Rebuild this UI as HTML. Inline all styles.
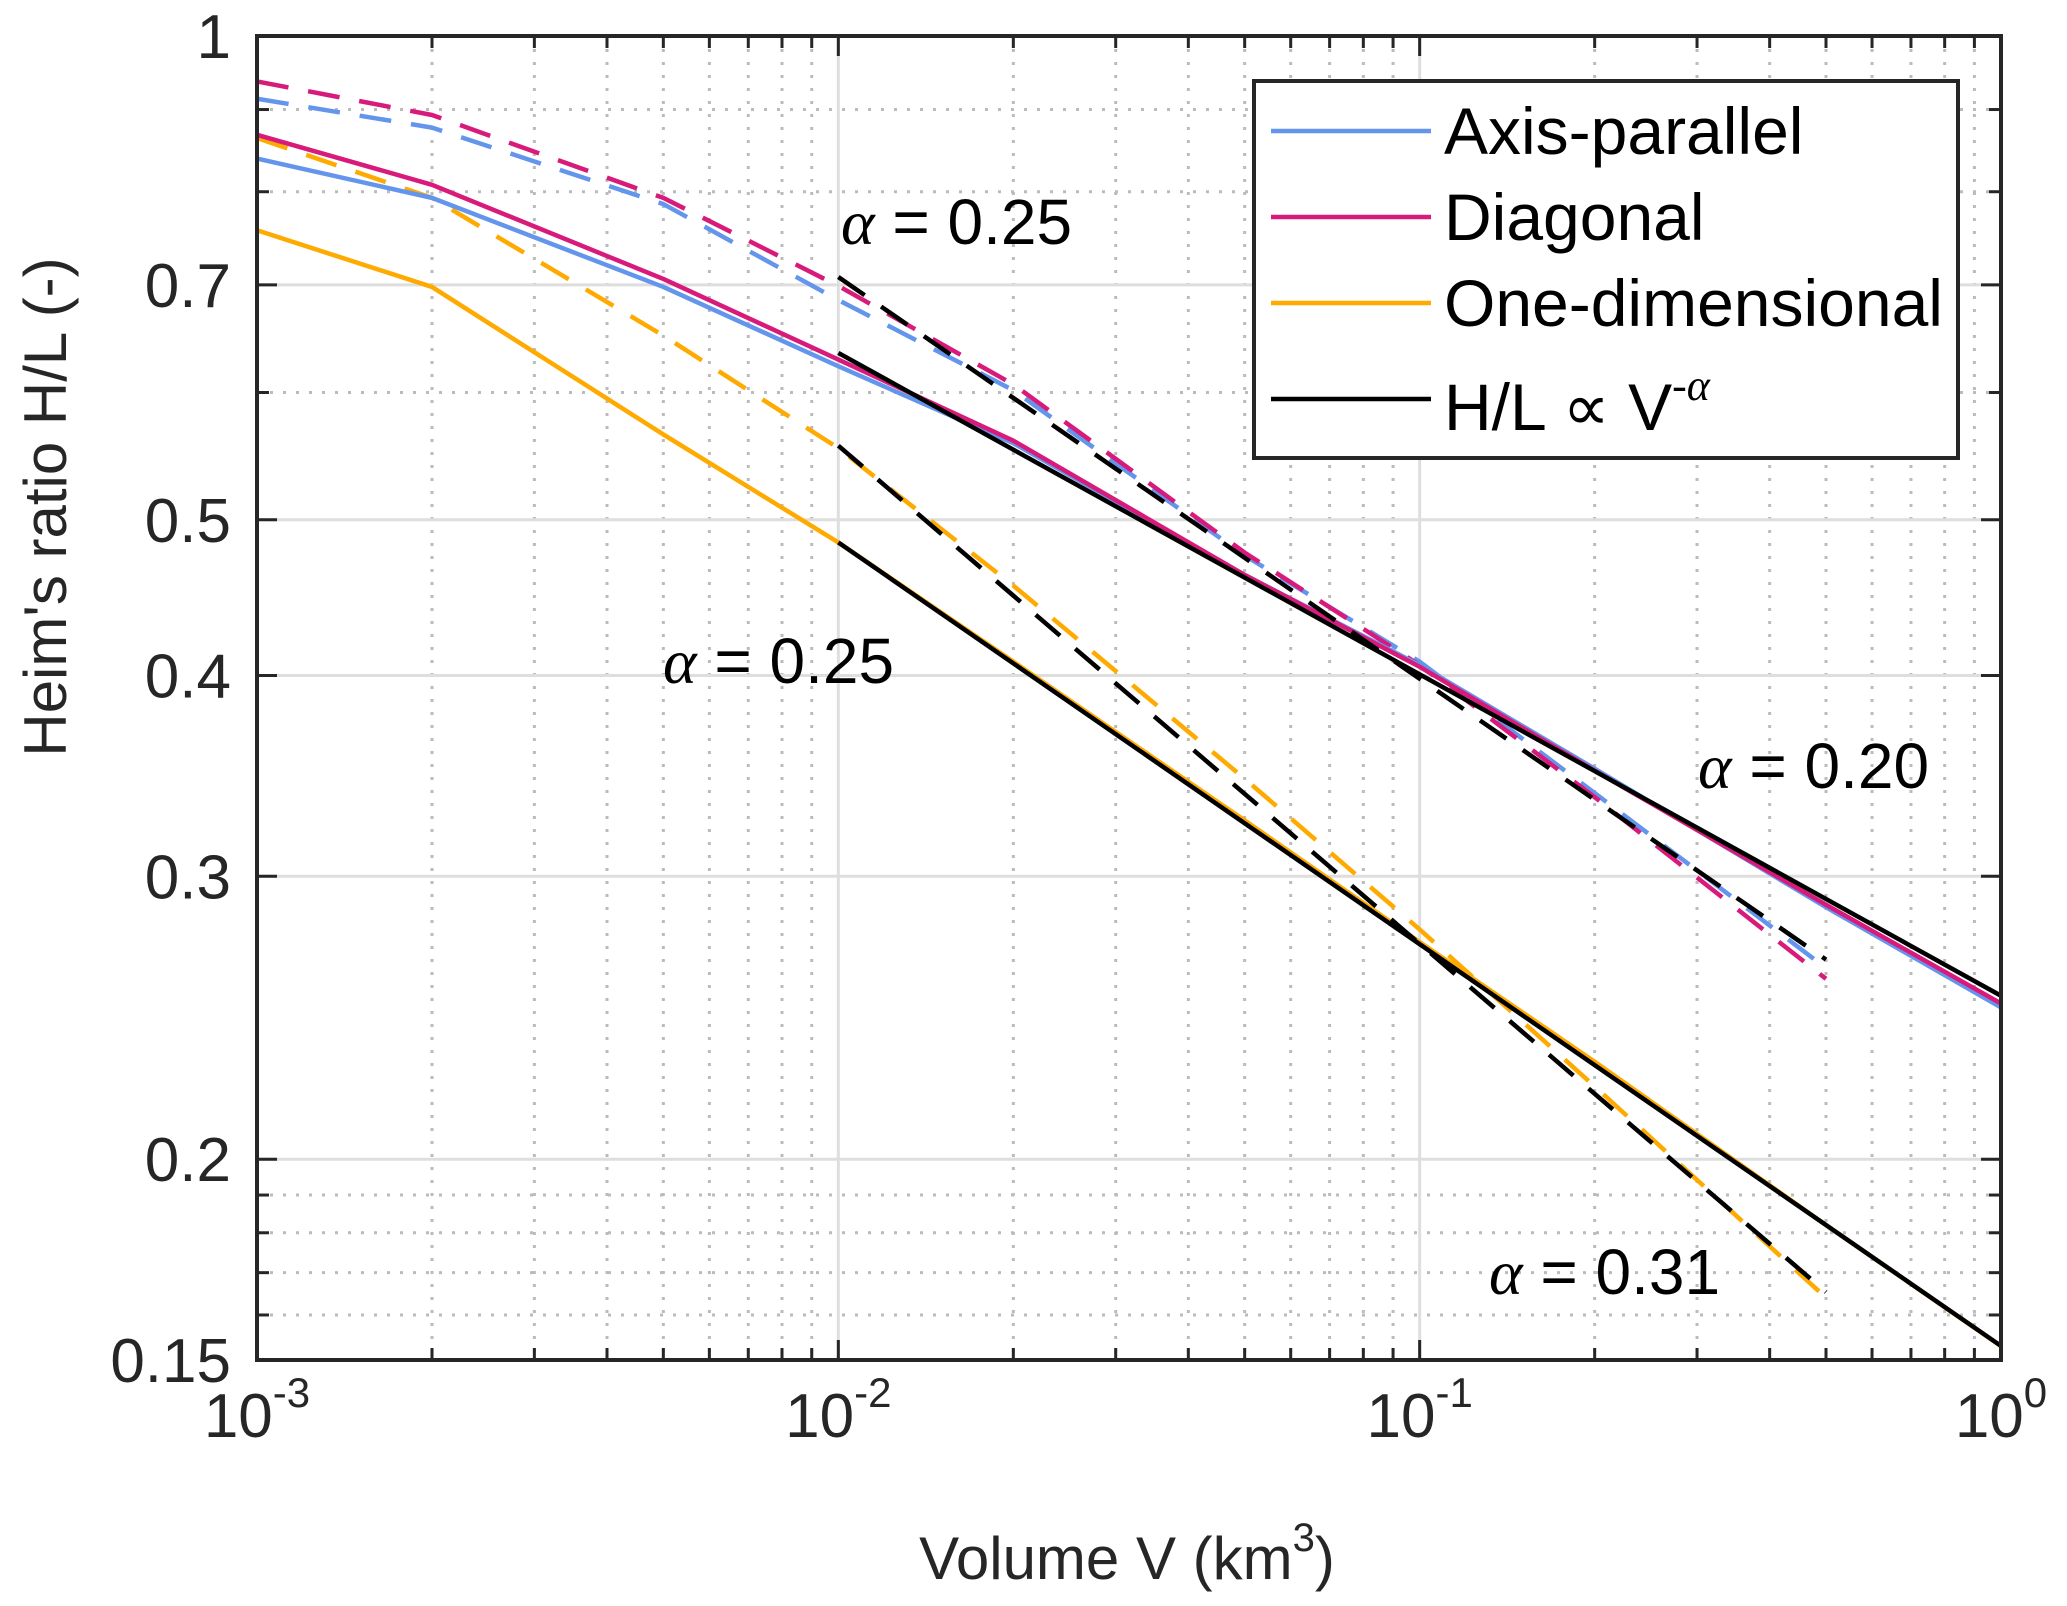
<!DOCTYPE html>
<html><head><meta charset="utf-8"><style>
html,body{margin:0;padding:0;background:#fff;}
svg{display:block;font-family:"Liberation Sans",Arial,sans-serif;}
</style></head><body>
<svg id="chart" width="2067" height="1606" viewBox="0 0 2067 1606">
<g id="grid"></g>
<g id="series"></g>
<g id="axes"></g>
<g id="notes"></g>
<g>
<rect x="1254" y="81" width="704" height="377" fill="#fff" stroke="#262626" stroke-width="4"/>
<line x1="1271" y1="131" x2="1431" y2="131" stroke="#6495ED" stroke-width="4.5"/>
<text x="1444" y="154" font-size="66">Axis-parallel</text>
<line x1="1271" y1="217" x2="1431" y2="217" stroke="#D81B7A" stroke-width="4.5"/>
<text x="1444" y="240" font-size="66">Diagonal</text>
<line x1="1271" y1="303" x2="1431" y2="303" stroke="#FFAA00" stroke-width="4.5"/>
<text x="1444" y="326" font-size="66">One-dimensional</text>
<line x1="1271" y1="399" x2="1431" y2="399" stroke="#000" stroke-width="4.5"/>
<text x="1444" y="430" font-size="66">H/L <tspan font-family="Liberation Serif,serif">∝</tspan> V<tspan font-size="44" dy="-30" font-style="italic" font-family="Liberation Serif,serif">-α</tspan></text>
</g>
<text x="46" y="507" font-size="60" fill="#262626" text-anchor="middle" transform="rotate(-90 46 507)" dy="20">Heim's ratio H/L (-)</text>
<text x="1127" y="1579" font-size="60" fill="#262626" text-anchor="middle">Volume V (km<tspan font-size="40" dy="-28">3</tspan><tspan dy="28">)</tspan></text>
</svg>
<script>
const xVals=[0.001,0.002,0.005,0.01,0.02,0.05,0.1,0.2,0.5,1];
const axisSolid=[0.839,0.793,0.698,0.623,0.558,0.462,0.406,0.350,0.287,0.2486];
const diagSolid=[0.868,0.808,0.706,0.629,0.560,0.462,0.405,0.349,0.288,0.250];
const oneSolid=[0.757,0.698,0.565,0.484,0.408,0.325,0.273,0.230,0.182,0.153];
const xDash=[0.001,0.002,0.005,0.01,0.02,0.05,0.1,0.2,0.5];
const axisDash=[0.914,0.877,0.786,0.685,0.602,0.475,0.408,0.338,0.263];
const diagDash=[0.937,0.893,0.793,0.699,0.607,0.477,0.406,0.336,0.259];
const oneDash=[0.864,0.793,0.651,0.554,0.455,0.345,0.278,0.222,0.164];
const fitStart=[0.01,0.01,0.01,0.01];
const fitEnd=[1,0.5,1,0.5];
const fitC=[0.635,0.708,0.484,0.556];
const fitAlpha=[0.20,0.25,0.25,0.31];
const fitDash=[false,true,false,true];
const yMajor=[0.15,0.2,0.3,0.4,0.5,0.7,1];
const yMajorLabels=["0.15","0.2","0.3","0.4","0.5","0.7","1"];
const yMinor=[0.16,0.17,0.18,0.19,0.6,0.8,0.9];
const xMajor=[-3,-2,-1,0];

const L=257,R=2001,T=36,B=1360;
const xp=v=>L+(Math.log10(v)+3)*(R-L)/3;
const yp=v=>T-Math.log10(v)*1607;
const NS="http://www.w3.org/2000/svg";
function mk(tag,attrs,parent){const e=document.createElementNS(NS,tag);for(const k in attrs)e.setAttribute(k,attrs[k]);parent.appendChild(e);return e;}
const grid=document.getElementById('grid'),axes=document.getElementById('axes'),ser=document.getElementById('series'),notes=document.getElementById('notes');

for(const d of xMajor){const x=xp(Math.pow(10,d));
 if(d>-3&&d<0){const g=mk('line',{x1:x,y1:T,x2:x,y2:B,stroke:'#dedede','stroke-width':3},grid);
 
 }
 const t=mk('text',{x:x,y:1437,'font-size':62,fill:'#262626','text-anchor':'middle'},axes);
 
 
 t.innerHTML='10<tspan font-size="42" dy="-30">'+d+'</tspan>';
 if(d<0){for(let m=2;m<=9;m++){const xm=xp(m*Math.pow(10,d));
  const g=mk('line',{x1:xm,y1:T,x2:xm,y2:B,stroke:'#bbb','stroke-width':3,'stroke-dasharray':'3 10'},grid);
  
  
  mk('line',{x1:xm,y1:B,x2:xm,y2:B-12,stroke:'#262626','stroke-width':3},axes);
  mk('line',{x1:xm,y1:T,x2:xm,y2:T+12,stroke:'#262626','stroke-width':3},axes);}}
 mk('line',{x1:x,y1:B,x2:x,y2:B-20,stroke:'#262626','stroke-width':3},axes);
 mk('line',{x1:x,y1:T,x2:x,y2:T+20,stroke:'#262626','stroke-width':3},axes);
}
yMajor.forEach((v,i)=>{const y=yp(v);
 if(i>0&&i<yMajor.length-1){const g=mk('line',{x1:L,y1:y,x2:R,y2:y,stroke:'#dedede','stroke-width':3},grid);
 
 }
 const t=mk('text',{x:231,y:y+22,'font-size':62,fill:'#262626','text-anchor':'end'},axes);
 
 
 t.textContent=yMajorLabels[i];
 mk('line',{x1:L,y1:y,x2:L+20,y2:y,stroke:'#262626','stroke-width':3},axes);
 mk('line',{x1:R,y1:y,x2:R-20,y2:y,stroke:'#262626','stroke-width':3},axes);
});
yMinor.forEach(v=>{const y=yp(v);
 const g=mk('line',{x1:L,y1:y,x2:R,y2:y,stroke:'#bbb','stroke-width':3,'stroke-dasharray':'3 10'},grid);
 
 
 mk('line',{x1:L,y1:y,x2:L+12,y2:y,stroke:'#262626','stroke-width':3},axes);
 mk('line',{x1:R,y1:y,x2:R-12,y2:y,stroke:'#262626','stroke-width':3},axes);
});
const fr=mk('rect',{x:L,y:T,width:R-L,height:B-T,fill:'none',stroke:'#262626','stroke-width':4},axes);



function series(xs,ys,color,dash,name){
 const p=mk('polyline',{points:xs.map((x,i)=>xp(x)+','+yp(ys[i])).join(' '),fill:'none',stroke:color,'stroke-width':4.5,'stroke-linejoin':'round'},ser);
 if(dash)p.setAttribute('stroke-dasharray','32 20');
 
 
}
series(xDash,axisDash,'#6495ED',true,'axis-parallel-dashed-line');
series(xDash,diagDash,'#D81B7A',true,'diagonal-dashed-line');
series(xDash,oneDash,'#FFAA00',true,'one-dimensional-dashed-line');
series(xVals,axisSolid,'#6495ED',false,'axis-parallel-line');
series(xVals,diagSolid,'#D81B7A',false,'diagonal-line');
series(xVals,oneSolid,'#FFAA00',false,'one-dimensional-line');
fitC.forEach((c,i)=>{
 const v0=fitStart[i],v1=fitEnd[i];
 const l=mk('line',{x1:xp(v0),y1:yp(c),x2:xp(v1),y2:yp(c*Math.pow(v1/v0,-fitAlpha[i])),stroke:'#000','stroke-width':4.5},ser);
 if(fitDash[i])l.setAttribute('stroke-dasharray','32 20');
 
 
});
const noteX=[841,663,1698,1489],noteY=[244,683,788,1294],noteText=["0.25","0.25","0.20","0.31"];
noteText.forEach((s,i)=>{
 const t=mk('text',{x:noteX[i],y:noteY[i],'font-size':64,fill:'#000'},notes);
 
 
 t.innerHTML='<tspan font-family="Liberation Serif,serif" font-style="italic">α</tspan> = '+s;
});
</script>
</body></html>
